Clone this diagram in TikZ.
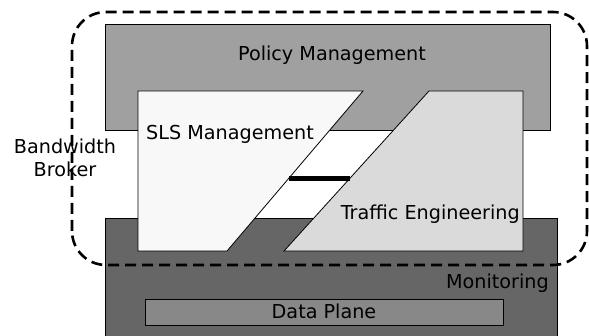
\documentclass[tikz,border=0pt]{standalone}
\usepackage{fontspec}
\setmainfont{DejaVu Sans}
\usepackage{tikz}
\usetikzlibrary{calc}

\definecolor{policygray}{HTML}{A0A0A0}
\definecolor{slswhite}{HTML}{F8F8F8}
\definecolor{tegray}{HTML}{DADADA}
\definecolor{monitorgray}{HTML}{666666}
\definecolor{planegray}{HTML}{888888}

\tikzset{
  layer/.style = {draw=black, line width=0.8pt},
  caption/.style = {inner sep=0pt, font=\fontsize{19.2}{24}\selectfont, text=black},
  broker/.style = {draw=black, line width=2.6pt, dash pattern=on 11pt off 6pt, rounded corners=34pt},
}

\begin{document}
\begin{tikzpicture}[x=1pt, y=-1pt]
	\useasboundingbox (0,0) rectangle (589,336);

	\begin{scope}
		\draw [layer, fill=policygray] (105,24) rectangle (550,130);
		\draw [layer, fill=monitorgray] (105,218) rectangle (557,345);
		\draw [layer, fill=planegray] (145,299) rectangle (503,325);
	\end{scope}

	\begin{scope}
		\coordinate (slstr) at (363,91);
		\coordinate (slsbr) at (227,251);
		\coordinate (tetl) at (429,91);
		\coordinate (tebl) at (284,251);
		\draw [layer, fill=slswhite] (138,91) -- (slstr) -- (slsbr) -- (138,251) -- cycle;
		\draw [layer, fill=tegray] (tetl) -- (523,91) -- (523,251) -- (tebl) -- cycle;

		\coordinate (slsedge) at ($(slstr)!0.544!(slsbr)$);
		\coordinate (teedge) at ($(tetl)!0.544!(tebl)$);
		\draw [line width=5pt] (slsedge) -- (teedge);
	\end{scope}

	\draw [broker] (72,265) rectangle (587,12);

	\node [caption] (policy) at (332,55) {Policy Management};
	\node [caption] (sls) at (230,134) {SLS Management};
	\node [caption, anchor=east] (te) at (520,214) {Traffic Engineering};
	\node [caption, anchor=east] (monitor) at (549,283) {Monitoring};
	\node [caption] (plane) at (324,311) {Data Plane};
	\node [caption, align=center] (bb) at (65,158) {Bandwidth\\[-1pt]Broker};
\end{tikzpicture}
\end{document}
